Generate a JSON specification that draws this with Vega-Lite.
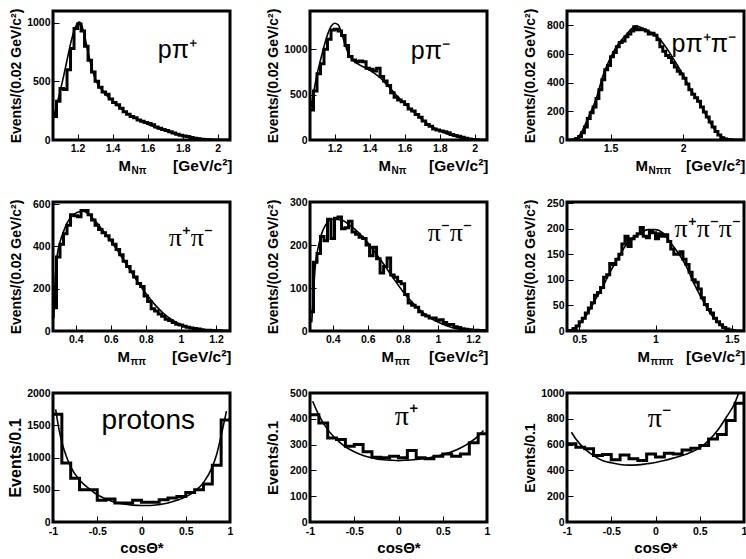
{
"$schema":"https://vega.github.io/schema/vega-lite/v6.json",
"background":"white",
"padding":{"left":5,"top":6,"right":0,"bottom":0},
"columns":3,
"spacing":{"row":62,"column":80},
"bounds":"flush",
"datasets":{
"h1":[{"x":1.06,"y":200},{"x":1.08,"y":330},{"x":1.10,"y":440},{"x":1.12,"y":430},{"x":1.14,"y":600},{"x":1.16,"y":780},{"x":1.18,"y":950},{"x":1.20,"y":990},{"x":1.22,"y":930},{"x":1.24,"y":800},{"x":1.26,"y":680},{"x":1.28,"y":580},{"x":1.30,"y":500},{"x":1.32,"y":450},{"x":1.34,"y":410},{"x":1.36,"y":390},{"x":1.38,"y":350},{"x":1.40,"y":320},{"x":1.42,"y":300},{"x":1.44,"y":270},{"x":1.46,"y":240},{"x":1.48,"y":220},{"x":1.50,"y":200},{"x":1.52,"y":190},{"x":1.54,"y":170},{"x":1.56,"y":160},{"x":1.58,"y":150},{"x":1.60,"y":140},{"x":1.62,"y":130},{"x":1.64,"y":110},{"x":1.66,"y":100},{"x":1.68,"y":90},{"x":1.70,"y":80},{"x":1.72,"y":70},{"x":1.74,"y":60},{"x":1.76,"y":50},{"x":1.78,"y":40},{"x":1.80,"y":35},{"x":1.82,"y":30},{"x":1.84,"y":22},{"x":1.86,"y":15},{"x":1.88,"y":10},{"x":1.90,"y":6},{"x":1.92,"y":4},{"x":1.94,"y":2},{"x":1.96,"y":1},{"x":1.98,"y":0},{"x":2.00,"y":0},{"x":2.02,"y":0},{"x":2.04,"y":0},{"x":2.06,"y":0},{"x":2.07,"y":0}],
"c1":[{"x":1.06,"y":170},{"x":1.08,"y":290},{"x":1.10,"y":410},{"x":1.12,"y":540},{"x":1.14,"y":680},{"x":1.16,"y":820},{"x":1.18,"y":930},{"x":1.20,"y":995},{"x":1.21,"y":1005},{"x":1.22,"y":990},{"x":1.24,"y":890},{"x":1.26,"y":750},{"x":1.28,"y":620},{"x":1.30,"y":525},{"x":1.34,"y":425},{"x":1.38,"y":360},{"x":1.42,"y":305},{"x":1.46,"y":255},{"x":1.50,"y":212},{"x":1.55,"y":170},{"x":1.60,"y":135},{"x":1.65,"y":105},{"x":1.70,"y":78},{"x":1.75,"y":56},{"x":1.80,"y":38},{"x":1.85,"y":23},{"x":1.90,"y":12},{"x":1.95,"y":5},{"x":2.00,"y":1.5},{"x":2.05,"y":0},{"x":2.07,"y":0}],
"h2":[{"x":1.06,"y":330},{"x":1.08,"y":540},{"x":1.10,"y":730},{"x":1.12,"y":840},{"x":1.14,"y":1000},{"x":1.16,"y":1110},{"x":1.18,"y":1210},{"x":1.20,"y":1220},{"x":1.22,"y":1200},{"x":1.24,"y":1150},{"x":1.26,"y":1040},{"x":1.28,"y":920},{"x":1.30,"y":880},{"x":1.32,"y":860},{"x":1.34,"y":870},{"x":1.36,"y":860},{"x":1.38,"y":790},{"x":1.40,"y":780},{"x":1.42,"y":760},{"x":1.44,"y":790},{"x":1.46,"y":700},{"x":1.48,"y":650},{"x":1.50,"y":600},{"x":1.52,"y":520},{"x":1.54,"y":470},{"x":1.56,"y":440},{"x":1.58,"y":420},{"x":1.60,"y":390},{"x":1.62,"y":340},{"x":1.64,"y":320},{"x":1.66,"y":280},{"x":1.68,"y":250},{"x":1.70,"y":210},{"x":1.72,"y":170},{"x":1.74,"y":150},{"x":1.76,"y":120},{"x":1.78,"y":110},{"x":1.80,"y":100},{"x":1.82,"y":90},{"x":1.84,"y":80},{"x":1.86,"y":60},{"x":1.88,"y":50},{"x":1.90,"y":40},{"x":1.92,"y":30},{"x":1.94,"y":18},{"x":1.96,"y":10},{"x":1.98,"y":5},{"x":2.00,"y":2},{"x":2.02,"y":0},{"x":2.04,"y":0},{"x":2.06,"y":0},{"x":2.07,"y":0}],
"c2":[{"x":1.06,"y":300},{"x":1.08,"y":520},{"x":1.10,"y":720},{"x":1.12,"y":880},{"x":1.14,"y":1030},{"x":1.16,"y":1160},{"x":1.18,"y":1250},{"x":1.20,"y":1285},{"x":1.22,"y":1270},{"x":1.24,"y":1180},{"x":1.26,"y":1050},{"x":1.28,"y":945},{"x":1.30,"y":885},{"x":1.34,"y":830},{"x":1.38,"y":790},{"x":1.42,"y":745},{"x":1.46,"y":685},{"x":1.50,"y":605},{"x":1.54,"y":520},{"x":1.58,"y":440},{"x":1.62,"y":365},{"x":1.66,"y":292},{"x":1.70,"y":225},{"x":1.74,"y":168},{"x":1.78,"y":122},{"x":1.82,"y":86},{"x":1.86,"y":56},{"x":1.90,"y":33},{"x":1.94,"y":16},{"x":1.98,"y":6},{"x":2.02,"y":1},{"x":2.07,"y":0}],
"h3":[{"x":1.20,"y":0},{"x":1.22,"y":0},{"x":1.24,"y":2},{"x":1.26,"y":10},{"x":1.28,"y":25},{"x":1.30,"y":50},{"x":1.32,"y":90},{"x":1.34,"y":150},{"x":1.36,"y":190},{"x":1.38,"y":230},{"x":1.40,"y":290},{"x":1.42,"y":350},{"x":1.44,"y":420},{"x":1.46,"y":490},{"x":1.48,"y":520},{"x":1.50,"y":580},{"x":1.52,"y":610},{"x":1.54,"y":650},{"x":1.56,"y":680},{"x":1.58,"y":690},{"x":1.60,"y":720},{"x":1.62,"y":740},{"x":1.64,"y":760},{"x":1.66,"y":790},{"x":1.68,"y":770},{"x":1.70,"y":775},{"x":1.72,"y":770},{"x":1.74,"y":760},{"x":1.76,"y":740},{"x":1.78,"y":745},{"x":1.80,"y":730},{"x":1.82,"y":700},{"x":1.84,"y":650},{"x":1.86,"y":620},{"x":1.88,"y":590},{"x":1.90,"y":575},{"x":1.92,"y":540},{"x":1.94,"y":510},{"x":1.96,"y":480},{"x":1.98,"y":460},{"x":2.00,"y":430},{"x":2.02,"y":390},{"x":2.04,"y":350},{"x":2.06,"y":320},{"x":2.08,"y":295},{"x":2.10,"y":270},{"x":2.12,"y":230},{"x":2.14,"y":195},{"x":2.16,"y":160},{"x":2.18,"y":125},{"x":2.20,"y":90},{"x":2.22,"y":60},{"x":2.24,"y":35},{"x":2.26,"y":15},{"x":2.28,"y":7},{"x":2.30,"y":3},{"x":2.32,"y":1},{"x":2.34,"y":0},{"x":2.36,"y":0},{"x":2.38,"y":0},{"x":2.40,"y":0},{"x":2.42,"y":0}],
"c3":[{"x":1.22,"y":0},{"x":1.26,"y":8},{"x":1.30,"y":55},{"x":1.35,"y":165},{"x":1.40,"y":285},{"x":1.45,"y":455},{"x":1.50,"y":575},{"x":1.55,"y":665},{"x":1.60,"y":725},{"x":1.65,"y":780},{"x":1.68,"y":795},{"x":1.72,"y":780},{"x":1.76,"y":760},{"x":1.80,"y":740},{"x":1.85,"y":690},{"x":1.90,"y":620},{"x":1.95,"y":540},{"x":2.00,"y":455},{"x":2.05,"y":355},{"x":2.10,"y":282},{"x":2.15,"y":190},{"x":2.20,"y":100},{"x":2.25,"y":35},{"x":2.30,"y":9},{"x":2.35,"y":1},{"x":2.42,"y":0}],
"h4":[{"x":0.27,"y":110},{"x":0.29,"y":350},{"x":0.31,"y":410},{"x":0.33,"y":460},{"x":0.35,"y":500},{"x":0.37,"y":550},{"x":0.39,"y":545},{"x":0.41,"y":540},{"x":0.43,"y":570},{"x":0.45,"y":570},{"x":0.47,"y":550},{"x":0.49,"y":525},{"x":0.51,"y":500},{"x":0.53,"y":480},{"x":0.55,"y":465},{"x":0.57,"y":450},{"x":0.59,"y":430},{"x":0.61,"y":410},{"x":0.63,"y":385},{"x":0.65,"y":360},{"x":0.67,"y":330},{"x":0.69,"y":305},{"x":0.71,"y":280},{"x":0.73,"y":255},{"x":0.75,"y":225},{"x":0.77,"y":210},{"x":0.79,"y":165},{"x":0.81,"y":140},{"x":0.83,"y":105},{"x":0.85,"y":95},{"x":0.87,"y":80},{"x":0.89,"y":70},{"x":0.91,"y":55},{"x":0.93,"y":50},{"x":0.95,"y":40},{"x":0.97,"y":32},{"x":0.99,"y":28},{"x":1.01,"y":22},{"x":1.03,"y":18},{"x":1.05,"y":14},{"x":1.07,"y":12},{"x":1.09,"y":9},{"x":1.11,"y":6},{"x":1.13,"y":4},{"x":1.15,"y":3},{"x":1.17,"y":2},{"x":1.19,"y":1},{"x":1.21,"y":1},{"x":1.23,"y":0},{"x":1.25,"y":0},{"x":1.27,"y":0},{"x":1.28,"y":0}],
"c4":[{"x":0.275,"y":60},{"x":0.28,"y":200},{"x":0.29,"y":330},{"x":0.31,"y":420},{"x":0.33,"y":470},{"x":0.35,"y":510},{"x":0.38,"y":545},{"x":0.41,"y":562},{"x":0.44,"y":566},{"x":0.47,"y":555},{"x":0.50,"y":530},{"x":0.55,"y":480},{"x":0.60,"y":425},{"x":0.65,"y":365},{"x":0.70,"y":300},{"x":0.75,"y":237},{"x":0.80,"y":177},{"x":0.85,"y":126},{"x":0.90,"y":84},{"x":0.95,"y":52},{"x":1.00,"y":30},{"x":1.05,"y":15},{"x":1.10,"y":7},{"x":1.15,"y":3},{"x":1.20,"y":1},{"x":1.28,"y":0}],
"h5":[{"x":0.27,"y":45},{"x":0.29,"y":160},{"x":0.31,"y":180},{"x":0.33,"y":220},{"x":0.35,"y":210},{"x":0.37,"y":260},{"x":0.39,"y":215},{"x":0.41,"y":262},{"x":0.43,"y":265},{"x":0.45,"y":238},{"x":0.47,"y":240},{"x":0.49,"y":255},{"x":0.51,"y":230},{"x":0.53,"y":225},{"x":0.55,"y":218},{"x":0.57,"y":215},{"x":0.59,"y":200},{"x":0.61,"y":175},{"x":0.63,"y":195},{"x":0.65,"y":168},{"x":0.67,"y":135},{"x":0.69,"y":150},{"x":0.71,"y":170},{"x":0.73,"y":130},{"x":0.75,"y":125},{"x":0.77,"y":115},{"x":0.79,"y":110},{"x":0.81,"y":85},{"x":0.83,"y":65},{"x":0.85,"y":60},{"x":0.87,"y":55},{"x":0.89,"y":45},{"x":0.91,"y":38},{"x":0.93,"y":35},{"x":0.95,"y":30},{"x":0.97,"y":30},{"x":0.99,"y":25},{"x":1.01,"y":26},{"x":1.03,"y":20},{"x":1.05,"y":15},{"x":1.07,"y":15},{"x":1.09,"y":10},{"x":1.11,"y":8},{"x":1.13,"y":5},{"x":1.15,"y":4},{"x":1.17,"y":3},{"x":1.19,"y":2},{"x":1.21,"y":2},{"x":1.23,"y":1},{"x":1.25,"y":1},{"x":1.27,"y":0},{"x":1.28,"y":0}],
"c5":[{"x":0.28,"y":20},{"x":0.29,"y":90},{"x":0.30,"y":150},{"x":0.32,"y":200},{"x":0.35,"y":240},{"x":0.40,"y":260},{"x":0.45,"y":258},{"x":0.50,"y":245},{"x":0.55,"y":228},{"x":0.60,"y":205},{"x":0.65,"y":178},{"x":0.70,"y":150},{"x":0.75,"y":120},{"x":0.80,"y":92},{"x":0.85,"y":68},{"x":0.90,"y":48},{"x":0.95,"y":32},{"x":1.00,"y":21},{"x":1.05,"y":12},{"x":1.10,"y":6},{"x":1.15,"y":3},{"x":1.20,"y":1},{"x":1.28,"y":0}],
"h6":[{"x":0.42,"y":0},{"x":0.44,"y":1},{"x":0.46,"y":5},{"x":0.48,"y":10},{"x":0.50,"y":18},{"x":0.52,"y":25},{"x":0.54,"y":35},{"x":0.56,"y":45},{"x":0.58,"y":55},{"x":0.60,"y":70},{"x":0.62,"y":75},{"x":0.64,"y":85},{"x":0.66,"y":105},{"x":0.68,"y":110},{"x":0.70,"y":132},{"x":0.72,"y":130},{"x":0.74,"y":140},{"x":0.76,"y":150},{"x":0.78,"y":170},{"x":0.80,"y":185},{"x":0.82,"y":165},{"x":0.84,"y":180},{"x":0.86,"y":185},{"x":0.88,"y":190},{"x":0.90,"y":202},{"x":0.92,"y":185},{"x":0.94,"y":182},{"x":0.96,"y":195},{"x":0.98,"y":192},{"x":1.00,"y":180},{"x":1.02,"y":190},{"x":1.04,"y":185},{"x":1.06,"y":188},{"x":1.08,"y":175},{"x":1.10,"y":160},{"x":1.12,"y":150},{"x":1.14,"y":150},{"x":1.16,"y":155},{"x":1.18,"y":140},{"x":1.20,"y":130},{"x":1.22,"y":115},{"x":1.24,"y":100},{"x":1.26,"y":95},{"x":1.28,"y":82},{"x":1.30,"y":65},{"x":1.32,"y":52},{"x":1.34,"y":42},{"x":1.36,"y":35},{"x":1.38,"y":25},{"x":1.40,"y":18},{"x":1.42,"y":12},{"x":1.44,"y":7},{"x":1.46,"y":4},{"x":1.48,"y":2},{"x":1.50,"y":1},{"x":1.52,"y":0},{"x":1.54,"y":0},{"x":1.56,"y":0},{"x":1.58,"y":0}],
"c6":[{"x":0.42,"y":0},{"x":0.45,"y":3},{"x":0.50,"y":13},{"x":0.55,"y":32},{"x":0.60,"y":58},{"x":0.65,"y":84},{"x":0.70,"y":114},{"x":0.75,"y":140},{"x":0.80,"y":165},{"x":0.85,"y":182},{"x":0.90,"y":191},{"x":0.95,"y":198},{"x":1.00,"y":198},{"x":1.05,"y":191},{"x":1.10,"y":172},{"x":1.15,"y":152},{"x":1.20,"y":127},{"x":1.25,"y":94},{"x":1.30,"y":65},{"x":1.35,"y":39},{"x":1.40,"y":19},{"x":1.45,"y":6},{"x":1.50,"y":2},{"x":1.55,"y":0},{"x":1.58,"y":0}],
"h7":[{"x":-1,"y":1670},{"x":-0.9,"y":915},{"x":-0.8,"y":680},{"x":-0.7,"y":500},{"x":-0.6,"y":500},{"x":-0.5,"y":336},{"x":-0.4,"y":356},{"x":-0.3,"y":295},{"x":-0.2,"y":295},{"x":-0.1,"y":336},{"x":0,"y":305},{"x":0.1,"y":305},{"x":0.2,"y":346},{"x":0.3,"y":372},{"x":0.4,"y":397},{"x":0.5,"y":458},{"x":0.6,"y":499},{"x":0.7,"y":590},{"x":0.8,"y":880},{"x":0.9,"y":1580},{"x":1.0,"y":1580}],
"c7":[{"x":-0.97,"y":1745},{"x":-0.93,"y":1420},{"x":-0.9,"y":1237},{"x":-0.85,"y":1020},{"x":-0.8,"y":855},{"x":-0.7,"y":651},{"x":-0.6,"y":524},{"x":-0.5,"y":422},{"x":-0.4,"y":356},{"x":-0.3,"y":305},{"x":-0.2,"y":280},{"x":-0.1,"y":262},{"x":0,"y":255},{"x":0.1,"y":255},{"x":0.2,"y":270},{"x":0.3,"y":295},{"x":0.4,"y":336},{"x":0.5,"y":390},{"x":0.6,"y":473},{"x":0.7,"y":610},{"x":0.8,"y":855},{"x":0.85,"y":1050},{"x":0.9,"y":1339},{"x":0.96,"y":1720}],
"h8":[{"x":-1,"y":416},{"x":-0.9,"y":384},{"x":-0.8,"y":326},{"x":-0.7,"y":320},{"x":-0.6,"y":294},{"x":-0.5,"y":300},{"x":-0.4,"y":272},{"x":-0.3,"y":251},{"x":-0.2,"y":249},{"x":-0.1,"y":255},{"x":0,"y":249},{"x":0.1,"y":277},{"x":0.2,"y":249},{"x":0.3,"y":245},{"x":0.4,"y":255},{"x":0.5,"y":264},{"x":0.6,"y":255},{"x":0.7,"y":264},{"x":0.8,"y":307},{"x":0.9,"y":342},{"x":1.0,"y":342}],
"c8":[{"x":-0.97,"y":468},{"x":-0.9,"y":414},{"x":-0.8,"y":358},{"x":-0.7,"y":320},{"x":-0.6,"y":291},{"x":-0.5,"y":272},{"x":-0.4,"y":258},{"x":-0.3,"y":249},{"x":-0.2,"y":242},{"x":-0.1,"y":240},{"x":0,"y":238},{"x":0.1,"y":240},{"x":0.2,"y":242},{"x":0.3,"y":246},{"x":0.4,"y":253},{"x":0.5,"y":262},{"x":0.6,"y":272},{"x":0.7,"y":287},{"x":0.8,"y":307},{"x":0.9,"y":333},{"x":0.96,"y":355}],
"h9":[{"x":-1,"y":606},{"x":-0.9,"y":580},{"x":-0.8,"y":567},{"x":-0.7,"y":515},{"x":-0.6,"y":523},{"x":-0.5,"y":482},{"x":-0.4,"y":520},{"x":-0.3,"y":490},{"x":-0.2,"y":477},{"x":-0.1,"y":528},{"x":0,"y":503},{"x":0.1,"y":533},{"x":0.2,"y":528},{"x":0.3,"y":559},{"x":0.4,"y":572},{"x":0.5,"y":593},{"x":0.6,"y":644},{"x":0.7,"y":678},{"x":0.8,"y":786},{"x":0.9,"y":920},{"x":1.0,"y":920}],
"c9":[{"x":-0.95,"y":696},{"x":-0.9,"y":644},{"x":-0.8,"y":567},{"x":-0.7,"y":515},{"x":-0.6,"y":477},{"x":-0.5,"y":459},{"x":-0.4,"y":446},{"x":-0.3,"y":441},{"x":-0.2,"y":443},{"x":-0.1,"y":451},{"x":0,"y":461},{"x":0.1,"y":477},{"x":0.2,"y":495},{"x":0.3,"y":515},{"x":0.4,"y":541},{"x":0.5,"y":575},{"x":0.6,"y":631},{"x":0.7,"y":709},{"x":0.8,"y":812},{"x":0.9,"y":928},{"x":0.97,"y":1060}]
},
"concat":[
{"width":177,"height":129,
 "title":{"text":"pπ⁺","fontSize":25,"font":"Liberation Sans","dx":-33,"dy":59},
 "layer":[
  {"data":{"name":"h1"},"mark":{"type":"line","interpolate":"step-after","strokeWidth":3,"color":"black","clip":true},
   "encoding":{"x":{"field":"x","type":"quantitative","scale":{"domain":[1.06,2.07],"nice":false,"zero":false},"axis":{"orient":"bottom","values":[1.2,1.4,1.6,1.8,2],"labelExpr":"datum.value + ''","title":"[GeV/c²]","titleX":179,"titleAlign":"right","titleFontSize":15.5}},
   "y":{"field":"y","type":"quantitative","scale":{"domain":[0,1100],"nice":false},"axis":{"values":[0,500,1000],"labelExpr":"datum.value + ''","title":"Events/(0.02 GeV/c²)"}}}},
  {"data":{"name":"c1"},"mark":{"type":"line","interpolate":"monotone","strokeWidth":1.6,"color":"black","clip":true},
   "encoding":{"x":{"field":"x","type":"quantitative","scale":{"domain":[1.06,2.07],"nice":false,"zero":false},"axis":{"orient":"bottom","labels":false,"ticks":false,"title":"M","titleX":65,"titleAlign":"left","titleFontSize":15}},
   "y":{"field":"y","type":"quantitative","scale":{"domain":[0,1100],"nice":false},"axis":{"values":[0,500,1000],"labelExpr":"datum.value + ''","title":"Events/(0.02 GeV/c²)"}}}},
  {"data":{"name":"h1"},"mark":{"type":"point","opacity":0},
   "encoding":{"x":{"field":"x","type":"quantitative","scale":{"domain":[1.06,2.07],"nice":false,"zero":false},"axis":{"orient":"bottom","labels":false,"ticks":false,"title":"Nπ","titleX":78,"titleAlign":"left","titleFontSize":10,"titleY":33}},
   "y":{"field":"y","type":"quantitative","scale":{"domain":[0,1100],"nice":false},"axis":{"values":[0,500,1000],"labelExpr":"datum.value + ''","title":"Events/(0.02 GeV/c²)"}}}}
 ],
 "resolve":{"axis":{"x":"independent"}}},
{"width":177,"height":129,
 "title":{"text":"pπ⁻","fontSize":25,"font":"Liberation Sans","dx":-37,"dy":60},
 "layer":[
  {"data":{"name":"h2"},"mark":{"type":"line","interpolate":"step-after","strokeWidth":3,"color":"black","clip":true},
   "encoding":{"x":{"field":"x","type":"quantitative","scale":{"domain":[1.06,2.07],"nice":false,"zero":false},"axis":{"orient":"bottom","values":[1.2,1.4,1.6,1.8,2],"labelExpr":"datum.value + ''","title":"[GeV/c²]","titleX":178,"titleAlign":"right","titleFontSize":15.5}},
   "y":{"field":"y","type":"quantitative","scale":{"domain":[0,1420],"nice":false},"axis":{"values":[0,500,1000],"labelExpr":"datum.value + ''","title":"Events/(0.02 GeV/c²)"}}}},
  {"data":{"name":"c2"},"mark":{"type":"line","interpolate":"monotone","strokeWidth":1.6,"color":"black","clip":true},
   "encoding":{"x":{"field":"x","type":"quantitative","scale":{"domain":[1.06,2.07],"nice":false,"zero":false},"axis":{"orient":"bottom","labels":false,"ticks":false,"title":"M","titleX":68,"titleAlign":"left","titleFontSize":15}},
   "y":{"field":"y","type":"quantitative","scale":{"domain":[0,1420],"nice":false},"axis":{"values":[0,500,1000],"labelExpr":"datum.value + ''","title":"Events/(0.02 GeV/c²)"}}}},
  {"data":{"name":"h2"},"mark":{"type":"point","opacity":0},
   "encoding":{"x":{"field":"x","type":"quantitative","scale":{"domain":[1.06,2.07],"nice":false,"zero":false},"axis":{"orient":"bottom","labels":false,"ticks":false,"title":"Nπ","titleX":81,"titleAlign":"left","titleFontSize":10,"titleY":33}},
   "y":{"field":"y","type":"quantitative","scale":{"domain":[0,1420],"nice":false},"axis":{"values":[0,500,1000],"labelExpr":"datum.value + ''","title":"Events/(0.02 GeV/c²)"}}}}
 ],
 "resolve":{"axis":{"x":"independent"}}},
{"width":177,"height":129,
 "title":{"text":"pπ⁺π⁻","fontSize":25,"font":"Liberation Sans","dx":-8,"dy":53},
 "layer":[
  {"data":{"name":"h3"},"mark":{"type":"line","interpolate":"step-after","strokeWidth":3,"color":"black","clip":true},
   "encoding":{"x":{"field":"x","type":"quantitative","scale":{"domain":[1.2,2.42],"nice":false,"zero":false},"axis":{"orient":"bottom","values":[1.5,2],"labelExpr":"datum.value + ''","title":"[GeV/c²]","titleX":178,"titleAlign":"right","titleFontSize":15.5}},
   "y":{"field":"y","type":"quantitative","scale":{"domain":[0,900],"nice":false},"axis":{"values":[0,200,400,600,800],"labelExpr":"datum.value + ''","title":"Events/(0.02 GeV/c²)"}}}},
  {"data":{"name":"c3"},"mark":{"type":"line","interpolate":"monotone","strokeWidth":1.6,"color":"black","clip":true},
   "encoding":{"x":{"field":"x","type":"quantitative","scale":{"domain":[1.2,2.42],"nice":false,"zero":false},"axis":{"orient":"bottom","labels":false,"ticks":false,"title":"M","titleX":68,"titleAlign":"left","titleFontSize":15}},
   "y":{"field":"y","type":"quantitative","scale":{"domain":[0,900],"nice":false},"axis":{"values":[0,200,400,600,800],"labelExpr":"datum.value + ''","title":"Events/(0.02 GeV/c²)"}}}},
  {"data":{"name":"h3"},"mark":{"type":"point","opacity":0},
   "encoding":{"x":{"field":"x","type":"quantitative","scale":{"domain":[1.2,2.42],"nice":false,"zero":false},"axis":{"orient":"bottom","labels":false,"ticks":false,"title":"Nππ","titleX":81,"titleAlign":"left","titleFontSize":10,"titleY":33}},
   "y":{"field":"y","type":"quantitative","scale":{"domain":[0,900],"nice":false},"axis":{"values":[0,200,400,600,800],"labelExpr":"datum.value + ''","title":"Events/(0.02 GeV/c²)"}}}}
 ],
 "resolve":{"axis":{"x":"independent"}}},
{"width":177,"height":129,
 "title":{"text":"π⁺π⁻","fontSize":26,"font":"Liberation Serif","dx":-17,"dy":56},
 "layer":[
  {"data":{"name":"h4"},"mark":{"type":"line","interpolate":"step-after","strokeWidth":3,"color":"black","clip":true},
   "encoding":{"x":{"field":"x","type":"quantitative","scale":{"domain":[0.27,1.28],"nice":false,"zero":false},"axis":{"orient":"bottom","values":[0.4,0.6,0.8,1,1.2],"labelExpr":"datum.value + ''","title":"[GeV/c²]","titleX":178,"titleAlign":"right","titleFontSize":15.5}},
   "y":{"field":"y","type":"quantitative","scale":{"domain":[0,610],"nice":false},"axis":{"values":[0,200,400,600],"labelExpr":"datum.value + ''","title":"Events/(0.02 GeV/c²)"}}}},
  {"data":{"name":"c4"},"mark":{"type":"line","interpolate":"monotone","strokeWidth":1.6,"color":"black","clip":true},
   "encoding":{"x":{"field":"x","type":"quantitative","scale":{"domain":[0.27,1.28],"nice":false,"zero":false},"axis":{"orient":"bottom","labels":false,"ticks":false,"title":"M","titleX":64,"titleAlign":"left","titleFontSize":15}},
   "y":{"field":"y","type":"quantitative","scale":{"domain":[0,610],"nice":false},"axis":{"values":[0,200,400,600],"labelExpr":"datum.value + ''","title":"Events/(0.02 GeV/c²)"}}}},
  {"data":{"name":"h4"},"mark":{"type":"point","opacity":0},
   "encoding":{"x":{"field":"x","type":"quantitative","scale":{"domain":[0.27,1.28],"nice":false,"zero":false},"axis":{"orient":"bottom","labels":false,"ticks":false,"title":"ππ","titleX":77,"titleAlign":"left","titleFontSize":10,"titleY":33}},
   "y":{"field":"y","type":"quantitative","scale":{"domain":[0,610],"nice":false},"axis":{"values":[0,200,400,600],"labelExpr":"datum.value + ''","title":"Events/(0.02 GeV/c²)"}}}}
 ],
 "resolve":{"axis":{"x":"independent"}}},
{"width":177,"height":129,
 "title":{"text":"π⁻π⁻","fontSize":26,"font":"Liberation Serif","dx":-15,"dy":53},
 "layer":[
  {"data":{"name":"h5"},"mark":{"type":"line","interpolate":"step-after","strokeWidth":3,"color":"black","clip":true},
   "encoding":{"x":{"field":"x","type":"quantitative","scale":{"domain":[0.27,1.28],"nice":false,"zero":false},"axis":{"orient":"bottom","values":[0.4,0.6,0.8,1,1.2],"labelExpr":"datum.value + ''","title":"[GeV/c²]","titleX":178,"titleAlign":"right","titleFontSize":15.5}},
   "y":{"field":"y","type":"quantitative","scale":{"domain":[0,300],"nice":false},"axis":{"values":[0,100,200,300],"labelExpr":"datum.value + ''","title":"Events/(0.02 GeV/c²)"}}}},
  {"data":{"name":"c5"},"mark":{"type":"line","interpolate":"monotone","strokeWidth":1.6,"color":"black","clip":true},
   "encoding":{"x":{"field":"x","type":"quantitative","scale":{"domain":[0.27,1.28],"nice":false,"zero":false},"axis":{"orient":"bottom","labels":false,"ticks":false,"title":"M","titleX":71,"titleAlign":"left","titleFontSize":15}},
   "y":{"field":"y","type":"quantitative","scale":{"domain":[0,300],"nice":false},"axis":{"values":[0,100,200,300],"labelExpr":"datum.value + ''","title":"Events/(0.02 GeV/c²)"}}}},
  {"data":{"name":"h5"},"mark":{"type":"point","opacity":0},
   "encoding":{"x":{"field":"x","type":"quantitative","scale":{"domain":[0.27,1.28],"nice":false,"zero":false},"axis":{"orient":"bottom","labels":false,"ticks":false,"title":"ππ","titleX":84,"titleAlign":"left","titleFontSize":10,"titleY":33}},
   "y":{"field":"y","type":"quantitative","scale":{"domain":[0,300],"nice":false},"axis":{"values":[0,100,200,300],"labelExpr":"datum.value + ''","title":"Events/(0.02 GeV/c²)"}}}}
 ],
 "resolve":{"axis":{"x":"independent"}}},
{"width":177,"height":129,
 "title":{"text":"π⁺π⁻π⁻","fontSize":26,"font":"Liberation Serif","dx":-3,"dy":48},
 "layer":[
  {"data":{"name":"h6"},"mark":{"type":"line","interpolate":"step-after","strokeWidth":3,"color":"black","clip":true},
   "encoding":{"x":{"field":"x","type":"quantitative","scale":{"domain":[0.42,1.58],"nice":false,"zero":false},"axis":{"orient":"bottom","values":[0.5,1,1.5],"labelExpr":"datum.value + ''","title":"[GeV/c²]","titleX":178,"titleAlign":"right","titleFontSize":15.5}},
   "y":{"field":"y","type":"quantitative","scale":{"domain":[0,252],"nice":false},"axis":{"values":[0,50,100,150,200,250],"labelExpr":"datum.value + ''","title":"Events/(0.02 GeV/c²)"}}}},
  {"data":{"name":"c6"},"mark":{"type":"line","interpolate":"monotone","strokeWidth":1.6,"color":"black","clip":true},
   "encoding":{"x":{"field":"x","type":"quantitative","scale":{"domain":[0.42,1.58],"nice":false,"zero":false},"axis":{"orient":"bottom","labels":false,"ticks":false,"title":"M","titleX":70,"titleAlign":"left","titleFontSize":15}},
   "y":{"field":"y","type":"quantitative","scale":{"domain":[0,252],"nice":false},"axis":{"values":[0,50,100,150,200,250],"labelExpr":"datum.value + ''","title":"Events/(0.02 GeV/c²)"}}}},
  {"data":{"name":"h6"},"mark":{"type":"point","opacity":0},
   "encoding":{"x":{"field":"x","type":"quantitative","scale":{"domain":[0.42,1.58],"nice":false,"zero":false},"axis":{"orient":"bottom","labels":false,"ticks":false,"title":"πππ","titleX":83,"titleAlign":"left","titleFontSize":10,"titleY":33}},
   "y":{"field":"y","type":"quantitative","scale":{"domain":[0,252],"nice":false},"axis":{"values":[0,50,100,150,200,250],"labelExpr":"datum.value + ''","title":"Events/(0.02 GeV/c²)"}}}}
 ],
 "resolve":{"axis":{"x":"independent"}}},
{"width":177,"height":129,
 "title":{"text":"protons","fontSize":28,"font":"Liberation Sans","dx":-35,"dy":51},
 "layer":[
  {"data":{"name":"h7"},"mark":{"type":"line","interpolate":"step-after","strokeWidth":3,"color":"black","clip":true},
   "encoding":{"x":{"field":"x","type":"quantitative","scale":{"domain":[-1,1],"nice":false,"zero":false},"axis":{"orient":"bottom","values":[-1,-0.5,0,0.5,1],"labelExpr":"datum.value + ''","title":"cosΘ*","titleFontSize":15,"labelPadding":10}},
   "y":{"field":"y","type":"quantitative","scale":{"domain":[0,2000],"nice":false},"axis":{"values":[0,500,1000,1500,2000],"labelExpr":"datum.value + ''","title":"Events/0.1","titleFontSize":16}}}},
  {"data":{"name":"c7"},"mark":{"type":"line","interpolate":"monotone","strokeWidth":1.6,"color":"black","clip":true},
   "encoding":{"x":{"field":"x","type":"quantitative","scale":{"domain":[-1,1],"nice":false,"zero":false},"axis":{"orient":"bottom","values":[-1,-0.5,0,0.5,1],"labelExpr":"datum.value + ''","title":"cosΘ*","titleFontSize":15,"labelPadding":10}},
   "y":{"field":"y","type":"quantitative","scale":{"domain":[0,2000],"nice":false},"axis":{"values":[0,500,1000,1500,2000],"labelExpr":"datum.value + ''","title":"Events/0.1","titleFontSize":16}}}}
 ]},
{"width":177,"height":129,
 "title":{"text":"π⁺","fontSize":28,"font":"Liberation Serif","dx":-69,"dy":47},
 "layer":[
  {"data":{"name":"h8"},"mark":{"type":"line","interpolate":"step-after","strokeWidth":3,"color":"black","clip":true},
   "encoding":{"x":{"field":"x","type":"quantitative","scale":{"domain":[-1,1],"nice":false,"zero":false},"axis":{"orient":"bottom","values":[-1,-0.5,0,0.5,1],"labelExpr":"datum.value + ''","title":"cosΘ*","titleFontSize":15,"labelPadding":10}},
   "y":{"field":"y","type":"quantitative","scale":{"domain":[0,500],"nice":false},"axis":{"values":[0,100,200,300,400,500],"labelExpr":"datum.value + ''","title":"Events/0.1","titleFontSize":15}}}},
  {"data":{"name":"c8"},"mark":{"type":"line","interpolate":"monotone","strokeWidth":1.6,"color":"black","clip":true},
   "encoding":{"x":{"field":"x","type":"quantitative","scale":{"domain":[-1,1],"nice":false,"zero":false},"axis":{"orient":"bottom","values":[-1,-0.5,0,0.5,1],"labelExpr":"datum.value + ''","title":"cosΘ*","titleFontSize":15,"labelPadding":10}},
   "y":{"field":"y","type":"quantitative","scale":{"domain":[0,500],"nice":false},"axis":{"values":[0,100,200,300,400,500],"labelExpr":"datum.value + ''","title":"Events/0.1","titleFontSize":15}}}}
 ]},
{"width":177,"height":129,
 "title":{"text":"π⁻","fontSize":28,"font":"Liberation Serif","dx":-73,"dy":49},
 "layer":[
  {"data":{"name":"h9"},"mark":{"type":"line","interpolate":"step-after","strokeWidth":3,"color":"black","clip":true},
   "encoding":{"x":{"field":"x","type":"quantitative","scale":{"domain":[-1,1],"nice":false,"zero":false},"axis":{"orient":"bottom","values":[-1,-0.5,0,0.5,1],"labelExpr":"datum.value + ''","title":"cosΘ*","titleFontSize":15,"labelPadding":10}},
   "y":{"field":"y","type":"quantitative","scale":{"domain":[0,1000],"nice":false},"axis":{"values":[0,200,400,600,800,1000],"labelExpr":"datum.value + ''","title":"Events/0.1","titleFontSize":14}}}},
  {"data":{"name":"c9"},"mark":{"type":"line","interpolate":"monotone","strokeWidth":1.6,"color":"black","clip":true},
   "encoding":{"x":{"field":"x","type":"quantitative","scale":{"domain":[-1,1],"nice":false,"zero":false},"axis":{"orient":"bottom","values":[-1,-0.5,0,0.5,1],"labelExpr":"datum.value + ''","title":"cosΘ*","titleFontSize":15,"labelPadding":10}},
   "y":{"field":"y","type":"quantitative","scale":{"domain":[0,1000],"nice":false},"axis":{"values":[0,200,400,600,800,1000],"labelExpr":"datum.value + ''","title":"Events/0.1","titleFontSize":14}}}}
 ]}
],
"config":{
 "view":{"stroke":"black","strokeWidth":3},
 "axis":{"domain":false,"grid":false,"labelFont":"Liberation Sans","labelFontWeight":"bold","labelFontSize":10.5,"labelColor":"black","titleFont":"Liberation Sans","titleFontWeight":"bold","titleColor":"black","tickColor":"black","tickSize":-6,"tickWidth":1,"labelFlush":false,"labelOverlap":false},
 "axisY":{"titleFontSize":14,"titleX":-30,"labelPadding":9},
 "axisX":{"titleFontSize":14,"titleBaseline":"alphabetic","titleY":30,"labelPadding":9},
 "title":{"color":"black","fontWeight":"normal","anchor":"end","frame":"group","baseline":"alphabetic","offset":0}
}
}
